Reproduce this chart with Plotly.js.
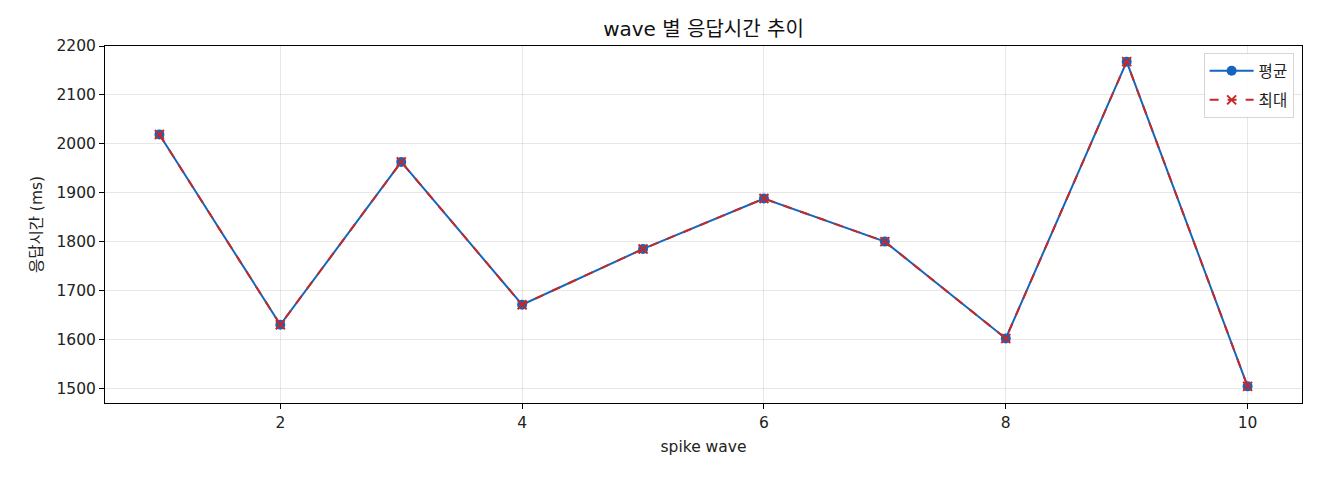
<!DOCTYPE html>
<html>
<head>
<meta charset="utf-8">
<script src="https://cdn.plot.ly/plotly-3.0.1.min.js"></script>
<style>html,body{margin:0;padding:0;background:#fff;}#chart{width:1320px;height:480px;}</style>
</head>
<body>
<div id="chart"></div>
<script>
const waves = [1, 2, 3, 4, 5, 6, 7, 8, 9, 10];
const avgMs = [2019, 1630, 1963, 1671, 1785, 1888, 1800, 1602, 2168, 1504];
const maxMs = [2019, 1630, 1963, 1671, 1785, 1888, 1800, 1602, 2168, 1504];
const xTicks = [2, 4, 6, 8, 10];
const yTicks = [1500, 1600, 1700, 1800, 1900, 2000, 2100, 2200];

const FONT = '"DejaVu Sans", "Noto Sans CJK KR", sans-serif';

const traces = [
  {
    x: waves, y: avgMs, name: '평균', type: 'scatter', mode: 'lines+markers',
    legendgroup: 'a',
    line: {color: '#1565C0', width: 2},
    marker: {symbol: 'circle', size: 10, color: '#1565C0'}
  },
  {
    x: waves, y: maxMs, name: '최대', type: 'scatter', mode: 'lines+markers',
    legendgroup: 'b',
    line: {color: '#C62828', width: 2, dash: 'dash'},
    marker: {symbol: 'x-thin', size: 9, color: '#C62828', line: {color: '#C62828', width: 2}}
  }
];

const axisCommon = {
  showline: true, linecolor: '#000', linewidth: 1, mirror: true,
  ticks: 'outside', ticklen: 5, tickcolor: '#000', tickwidth: 1,
  showgrid: true, gridcolor: 'rgba(176,176,176,0.3)', gridwidth: 1,
  zeroline: false,
  tickfont: {family: FONT, size: 15.5, color: '#222'}
};

const layout = {
  width: 1320, height: 480,
  paper_bgcolor: '#fff', plot_bgcolor: '#fff',
  margin: {l: 105, r: 18, t: 46, b: 77},
  font: {family: FONT, color: '#222'},
  title: {text: 'wave 별 응답시간 추이', xref: 'paper', x: 0.5, xanchor: 'center', y: 0.94, yanchor: 'middle',
          font: {family: FONT, size: 20, color: '#111'}},
  xaxis: Object.assign({}, axisCommon, {
    range: [0.55, 10.45], tickvals: xTicks,
    title: {text: 'spike wave', font: {family: FONT, size: 15.5, color: '#222'}, standoff: 10}
  }),
  yaxis: Object.assign({}, axisCommon, {
    range: [1470, 2200], tickvals: yTicks,
    title: {text: '응답시간 (ms)', font: {family: FONT, size: 15.5, color: '#222'}, standoff: 10}
  }),
  legend: {
    x: 0.993, y: 0.98, xanchor: 'right', yanchor: 'top',
    traceorder: 'grouped', tracegroupgap: 6, itemwidth: 44,
    bgcolor: 'rgba(255,255,255,0.9)', bordercolor: '#d6d6d6', borderwidth: 1,
    font: {family: FONT, size: 15.5, color: '#222'}
  },
  showlegend: true
};

Plotly.newPlot('chart', traces, layout, {displayModeBar: false, staticPlot: true});
</script>
</body>
</html>
